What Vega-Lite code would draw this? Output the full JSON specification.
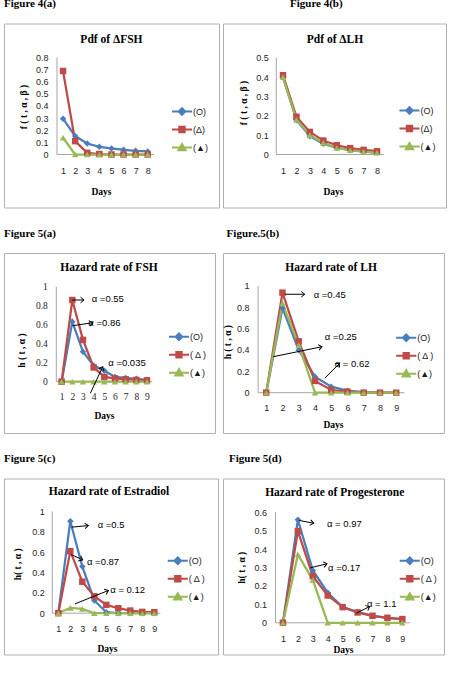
{
  "$schema": "https://vega.github.io/schema/vega-lite/v6.json",
  "padding": {"left": 3, "top": -2.5, "right": 0, "bottom": 0},
  "background": "white",
  "config": {
    "view": {"stroke": "#b0b0b0", "strokeWidth": 1},
    "axis": {"domain": false, "ticks": false, "tickSize": 0, "grid": false, "labelFont": "Liberation Sans", "labelFontSize": 9, "labelColor": "#262626", "labelOverlap": false, "labelFlush": false, "labelBound": false, "titleFont": "Liberation Serif", "titleFontSize": 9.5, "titleFontWeight": "bold", "titleColor": "#000000", "titleBaseline": "middle", "titleAlign": "center", "format": "~g"},
    "legend": {"symbolSize": 144, "labelFont": "Liberation Sans", "labelFontSize": 9, "labelColor": "#1a1a1a", "rowPadding": 3, "labelOffset": 4, "padding": 0},
    "title": {"anchor": "start", "offset": 14.5, "baseline": "middle", "font": "Liberation Serif", "fontSize": 11, "fontWeight": "bold", "color": "#000000"},
    "text": {"font": "Liberation Sans", "fontSize": 9.5, "align": "left", "baseline": "middle", "color": "#000000"}
  },
  "datasets": {
    "s4a": [
      {"day": 1, "series": "(O)", "value": 0.295}, {"day": 2, "series": "(O)", "value": 0.152}, {"day": 3, "series": "(O)", "value": 0.091}, {"day": 4, "series": "(O)", "value": 0.063}, {"day": 5, "series": "(O)", "value": 0.05}, {"day": 6, "series": "(O)", "value": 0.039}, {"day": 7, "series": "(O)", "value": 0.03}, {"day": 8, "series": "(O)", "value": 0.025},
      {"day": 1, "series": "(Δ)", "value": 0.689}, {"day": 2, "series": "(Δ)", "value": 0.11}, {"day": 3, "series": "(Δ)", "value": 0.014}, {"day": 4, "series": "(Δ)", "value": 0.004}, {"day": 5, "series": "(Δ)", "value": 0}, {"day": 6, "series": "(Δ)", "value": 0}, {"day": 7, "series": "(Δ)", "value": 0}, {"day": 8, "series": "(Δ)", "value": 0},
      {"day": 1, "series": "(▲)", "value": 0.138}, {"day": 2, "series": "(▲)", "value": 0}, {"day": 3, "series": "(▲)", "value": 0}, {"day": 4, "series": "(▲)", "value": 0}, {"day": 5, "series": "(▲)", "value": 0}, {"day": 6, "series": "(▲)", "value": 0}, {"day": 7, "series": "(▲)", "value": 0}, {"day": 8, "series": "(▲)", "value": 0}
    ],
    "s4b": [
      {"day": 1, "series": "(O)", "value": 0.4}, {"day": 2, "series": "(O)", "value": 0.178}, {"day": 3, "series": "(O)", "value": 0.095}, {"day": 4, "series": "(O)", "value": 0.055}, {"day": 5, "series": "(O)", "value": 0.035}, {"day": 6, "series": "(O)", "value": 0.022}, {"day": 7, "series": "(O)", "value": 0.015}, {"day": 8, "series": "(O)", "value": 0.01},
      {"day": 1, "series": "(Δ)", "value": 0.41}, {"day": 2, "series": "(Δ)", "value": 0.195}, {"day": 3, "series": "(Δ)", "value": 0.117}, {"day": 4, "series": "(Δ)", "value": 0.072}, {"day": 5, "series": "(Δ)", "value": 0.048}, {"day": 6, "series": "(Δ)", "value": 0.033}, {"day": 7, "series": "(Δ)", "value": 0.024}, {"day": 8, "series": "(Δ)", "value": 0.017},
      {"day": 1, "series": "(▲)", "value": 0.4}, {"day": 2, "series": "(▲)", "value": 0.18}, {"day": 3, "series": "(▲)", "value": 0.1}, {"day": 4, "series": "(▲)", "value": 0.06}, {"day": 5, "series": "(▲)", "value": 0.034}, {"day": 6, "series": "(▲)", "value": 0.022}, {"day": 7, "series": "(▲)", "value": 0.015}, {"day": 8, "series": "(▲)", "value": 0.009}
    ],
    "s5a": [
      {"day": 1, "series": "(O)", "value": 0}, {"day": 2, "series": "(O)", "value": 0.63}, {"day": 3, "series": "(O)", "value": 0.315}, {"day": 4, "series": "(O)", "value": 0.17}, {"day": 5, "series": "(O)", "value": 0.115}, {"day": 6, "series": "(O)", "value": 0.05}, {"day": 7, "series": "(O)", "value": 0.04}, {"day": 8, "series": "(O)", "value": 0.03}, {"day": 9, "series": "(O)", "value": 0.02},
      {"day": 1, "series": "(Δ)", "value": 0}, {"day": 2, "series": "(Δ)", "value": 0.86}, {"day": 3, "series": "(Δ)", "value": 0.44}, {"day": 4, "series": "(Δ)", "value": 0.15}, {"day": 5, "series": "(Δ)", "value": 0.05}, {"day": 6, "series": "(Δ)", "value": 0.035}, {"day": 7, "series": "(Δ)", "value": 0.025}, {"day": 8, "series": "(Δ)", "value": 0.018}, {"day": 9, "series": "(Δ)", "value": 0.014},
      {"day": 1, "series": "(▲)", "value": 0}, {"day": 2, "series": "(▲)", "value": 0}, {"day": 3, "series": "(▲)", "value": 0}, {"day": 4, "series": "(▲)", "value": 0}, {"day": 5, "series": "(▲)", "value": 0}, {"day": 6, "series": "(▲)", "value": 0}, {"day": 7, "series": "(▲)", "value": 0}, {"day": 8, "series": "(▲)", "value": 0}, {"day": 9, "series": "(▲)", "value": 0}
    ],
    "s5b": [
      {"day": 1, "series": "(O)", "value": 0}, {"day": 2, "series": "(O)", "value": 0.79}, {"day": 3, "series": "(O)", "value": 0.4}, {"day": 4, "series": "(O)", "value": 0.15}, {"day": 5, "series": "(O)", "value": 0.056}, {"day": 6, "series": "(O)", "value": 0.019}, {"day": 7, "series": "(O)", "value": 0.005}, {"day": 8, "series": "(O)", "value": 0}, {"day": 9, "series": "(O)", "value": 0},
      {"day": 1, "series": "(Δ)", "value": 0}, {"day": 2, "series": "(Δ)", "value": 0.935}, {"day": 3, "series": "(Δ)", "value": 0.48}, {"day": 4, "series": "(Δ)", "value": 0.11}, {"day": 5, "series": "(Δ)", "value": 0.025}, {"day": 6, "series": "(Δ)", "value": 0.01}, {"day": 7, "series": "(Δ)", "value": 0}, {"day": 8, "series": "(Δ)", "value": 0}, {"day": 9, "series": "(Δ)", "value": 0},
      {"day": 1, "series": "(▲)", "value": 0}, {"day": 2, "series": "(▲)", "value": 0.835}, {"day": 3, "series": "(▲)", "value": 0.445}, {"day": 4, "series": "(▲)", "value": 0}, {"day": 5, "series": "(▲)", "value": 0}, {"day": 6, "series": "(▲)", "value": 0}, {"day": 7, "series": "(▲)", "value": 0}, {"day": 8, "series": "(▲)", "value": 0}, {"day": 9, "series": "(▲)", "value": 0}
    ],
    "s5c": [
      {"day": 1, "series": "(O)", "value": 0}, {"day": 2, "series": "(O)", "value": 0.905}, {"day": 3, "series": "(O)", "value": 0.46}, {"day": 4, "series": "(O)", "value": 0.125}, {"day": 5, "series": "(O)", "value": 0.01}, {"day": 6, "series": "(O)", "value": 0}, {"day": 7, "series": "(O)", "value": 0}, {"day": 8, "series": "(O)", "value": 0}, {"day": 9, "series": "(O)", "value": 0},
      {"day": 1, "series": "(Δ)", "value": 0}, {"day": 2, "series": "(Δ)", "value": 0.61}, {"day": 3, "series": "(Δ)", "value": 0.31}, {"day": 4, "series": "(Δ)", "value": 0.167}, {"day": 5, "series": "(Δ)", "value": 0.082}, {"day": 6, "series": "(Δ)", "value": 0.049}, {"day": 7, "series": "(Δ)", "value": 0.026}, {"day": 8, "series": "(Δ)", "value": 0.013}, {"day": 9, "series": "(Δ)", "value": 0.01},
      {"day": 1, "series": "(▲)", "value": 0}, {"day": 2, "series": "(▲)", "value": 0.052}, {"day": 3, "series": "(▲)", "value": 0.043}, {"day": 4, "series": "(▲)", "value": 0}, {"day": 5, "series": "(▲)", "value": 0}, {"day": 6, "series": "(▲)", "value": 0}, {"day": 7, "series": "(▲)", "value": 0}, {"day": 8, "series": "(▲)", "value": 0}, {"day": 9, "series": "(▲)", "value": 0}
    ],
    "s5d": [
      {"day": 1, "series": "(O)", "value": 0}, {"day": 2, "series": "(O)", "value": 0.559}, {"day": 3, "series": "(O)", "value": 0.284}, {"day": 4, "series": "(O)", "value": 0.163}, {"day": 5, "series": "(O)", "value": 0.085}, {"day": 6, "series": "(O)", "value": 0.058}, {"day": 7, "series": "(O)", "value": 0.038}, {"day": 8, "series": "(O)", "value": 0.027}, {"day": 9, "series": "(O)", "value": 0.02},
      {"day": 1, "series": "(Δ)", "value": 0}, {"day": 2, "series": "(Δ)", "value": 0.497}, {"day": 3, "series": "(Δ)", "value": 0.253}, {"day": 4, "series": "(Δ)", "value": 0.148}, {"day": 5, "series": "(Δ)", "value": 0.085}, {"day": 6, "series": "(Δ)", "value": 0.056}, {"day": 7, "series": "(Δ)", "value": 0.038}, {"day": 8, "series": "(Δ)", "value": 0.027}, {"day": 9, "series": "(Δ)", "value": 0.02},
      {"day": 1, "series": "(▲)", "value": 0}, {"day": 2, "series": "(▲)", "value": 0.37}, {"day": 3, "series": "(▲)", "value": 0.233}, {"day": 4, "series": "(▲)", "value": 0}, {"day": 5, "series": "(▲)", "value": 0}, {"day": 6, "series": "(▲)", "value": 0}, {"day": 7, "series": "(▲)", "value": 0}, {"day": 8, "series": "(▲)", "value": 0}, {"day": 9, "series": "(▲)", "value": 0}
    ],
    "ax4a": [{"day": 0.5, "day2": 8.5, "value": 0, "value2": 0}, {"day": 0.5, "day2": 0.5, "value": 0, "value2": 0.8}],
    "ax4b": [{"day": 0.5, "day2": 8.5, "value": 0, "value2": 0}, {"day": 0.5, "day2": 0.5, "value": 0, "value2": 0.5}],
    "ax5a": [{"day": 0.5, "day2": 9.5, "value": 0, "value2": 0}, {"day": 0.5, "day2": 0.5, "value": 0, "value2": 1}],
    "ax5d": [{"day": 0.5, "day2": 9.5, "value": 0, "value2": 0}, {"day": 0.5, "day2": 0.5, "value": 0, "value2": 0.6}],
    "ar5a": [
      {"day": 2.0, "value": 0.86, "day2": 3.1, "value2": 0.86},
      {"day": 2.04, "value": 0.59, "day2": 3.91, "value2": 0.62},
      {"day": 3.69, "value": -0.122, "day2": 4.85, "value2": 0.158}
    ],
    "hd5a": [
      {"day": 3.1, "value": 0.86, "angle": 0},
      {"day": 3.91, "value": 0.62, "angle": -10},
      {"day": 4.85, "value": 0.158, "angle": -65}
    ],
    "tx5a": [
      {"day": 3.82, "value": 0.87, "label": "α =0.55"},
      {"day": 3.5, "value": 0.62, "label": "α =0.86"},
      {"day": 5.37, "value": 0.194, "label": "α =0.035"}
    ],
    "ar5b": [
      {"day": 2.14, "value": 0.92, "day2": 3.37, "value2": 0.92},
      {"day": 1.42, "value": 0.336, "day2": 4.43, "value2": 0.43},
      {"day": 4.6, "value": 0.135, "day2": 5.52, "value2": 0.275}
    ],
    "hd5b": [
      {"day": 3.37, "value": 0.92, "angle": 0},
      {"day": 4.43, "value": 0.43, "angle": -11.5},
      {"day": 5.52, "value": 0.275, "angle": -45}
    ],
    "tx5b": [
      {"day": 3.92, "value": 0.91, "label": "α =0.45"},
      {"day": 4.6, "value": 0.518, "label": "α =0.25"},
      {"day": 5.21, "value": 0.265, "label": "α = 0.62"}
    ],
    "ar5c": [
      {"day": 2.12, "value": 0.846, "day2": 3.5, "value2": 0.862},
      {"day": 2.06, "value": 0.577, "day2": 3.03, "value2": 0.525},
      {"day": 2.39, "value": 0.092, "day2": 5.17, "value2": 0.223}
    ],
    "hd5c": [
      {"day": 3.5, "value": 0.862, "angle": -6},
      {"day": 3.03, "value": 0.525, "angle": 24},
      {"day": 5.17, "value": 0.223, "angle": -22}
    ],
    "tx5c": [
      {"day": 4.28, "value": 0.872, "label": "α =0.5"},
      {"day": 3.39, "value": 0.5, "label": "α =0.87"},
      {"day": 5.33, "value": 0.23, "label": "α = 0.12"}
    ],
    "ar5d": [
      {"day": 2.08, "value": 0.555, "day2": 3.06, "value2": 0.54},
      {"day": 2.83, "value": 0.298, "day2": 3.95, "value2": 0.32},
      {"day": 5.92, "value": 0.052, "day2": 6.81, "value2": 0.088}
    ],
    "hd5d": [
      {"day": 3.06, "value": 0.54, "angle": 10},
      {"day": 3.95, "value": 0.32, "angle": -13.5},
      {"day": 6.81, "value": 0.088, "angle": -26.6}
    ],
    "tx5d": [
      {"day": 3.95, "value": 0.537, "label": "α = 0.97"},
      {"day": 4.02, "value": 0.298, "label": "α =0.17"},
      {"day": 6.63, "value": 0.103, "label": "α = 1.1"}
    ],
    "ti4a": [{"day": 5.0, "value": 0.948, "label": "Pdf of ΔFSH"}],
    "ti4b": [{"day": 4.87, "value": 0.5946, "label": "Pdf of ΔLH"}],
    "ti5a": [{"day": 5.44, "value": 1.197, "label": "Hazard rate of FSH"}],
    "ti5b": [{"day": 4.99, "value": 1.165, "label": "Hazard rate of LH"}],
    "ti5c": [{"day": 5.225, "value": 1.187, "label": "Hazard rate of Estradiol"}],
    "ti5d": [{"day": 4.47, "value": 0.705, "label": "Hazard rate of Progesterone"}]
  },
  "resolve": {"scale": {"stroke": "independent", "fill": "independent", "shape": "independent"}, "legend": {"stroke": "independent", "fill": "independent", "shape": "independent"}},
  "spacing": 18.5,
  "vconcat": [
    {
      "spacing": 2,
      "resolve": {"scale": {"stroke": "independent", "fill": "independent", "shape": "independent"}, "legend": {"stroke": "independent", "fill": "independent", "shape": "independent"}},
      "hconcat": [
        {
          "width": 215, "height": 184,
          "title": {"text": "Figure 4(a)", "dx": 0},
          "encoding": {
            "x": {"field": "day", "type": "quantitative", "scale": {"domain": [-3.88, 13.889], "nice": false, "zero": false}, "axis": {"values": [1, 2, 3, 4, 5, 6, 7, 8], "format": "d", "offset": -53, "labelPadding": 12, "title": "Days", "titleX": 97, "titleY": 37}},
            "y": {"field": "value", "type": "quantitative", "scale": {"domain": [-0.4371, 1.0804], "nice": false, "zero": false}, "axis": {"values": [0, 0.1, 0.2, 0.3, 0.4, 0.5, 0.6, 0.7, 0.8], "offset": -53, "labelPadding": 9, "title": "f ( t , α , β )", "titleX": -34, "titleY": 83}}
          },
          "layer": [
            {"data": {"name": "ax4a"}, "mark": {"type": "rule", "color": "#a6a6a6", "strokeWidth": 1}, "encoding": {"x2": {"field": "day2"}, "y2": {"field": "value2"}}},
            {"data": {"name": "s4a"}, "mark": {"type": "line", "strokeWidth": 2.25}, "encoding": {"stroke": {"field": "series", "type": "nominal", "scale": {"domain": ["(O)", "(Δ)", "(▲)"], "range": ["#4a7ebb", "#be4b48", "#98b954"]}, "legend": {"title": null, "orient": "none", "legendX": 171, "legendY": 81, "encode": {"symbols": {"update": {"shape": {"signal": "datum.value==='(O)'?'M-1.67,0L1.67,0M0,-0.55L0.55,0L0,0.55L-0.55,0Z':datum.value==='(Δ)'?'M-1.67,0L1.67,0M-0.45,-0.45L0.45,-0.45L0.45,0.45L-0.45,0.45Z':'M-1.67,0L1.67,0M0,-0.6L0.6,0.45L-0.6,0.45Z'"}, "fill": {"signal": "datum.value==='(O)'?'#4a7ebb':datum.value==='(Δ)'?'#be4b48':'#98b954'"}, "strokeWidth": {"value": 2}, "opacity": {"value": 1}}}}}}}},
            {"data": {"name": "s4a"}, "mark": {"type": "point", "filled": true, "size": 42, "opacity": 1}, "encoding": {"fill": {"field": "series", "type": "nominal", "scale": {"range": ["#4a7ebb", "#be4b48", "#98b954"]}, "legend": null}, "shape": {"field": "series", "type": "nominal", "scale": {"range": ["diamond", "square", "triangle-up"]}, "legend": null}}},
            {"data": {"name": "ti4a"}, "mark": {"type": "text", "align": "center", "font": "Liberation Serif", "fontSize": 11.5, "fontWeight": "bold"}, "encoding": {"text": {"field": "label"}}}
          ]
        },
        {
          "width": 223, "height": 184,
          "title": {"text": "Figure 4(b)", "dx": 67},
          "encoding": {
            "x": {"field": "day", "type": "quantitative", "scale": {"domain": [-3.469, 13.136], "nice": false, "zero": false}, "axis": {"values": [1, 2, 3, 4, 5, 6, 7, 8], "format": "d", "offset": -53, "labelPadding": 12, "title": "Days", "titleX": 110, "titleY": 37}},
            "y": {"field": "value", "type": "quantitative", "scale": {"domain": [-0.274, 0.6774], "nice": false, "zero": false}, "axis": {"values": [0, 0.1, 0.2, 0.3, 0.4, 0.5], "offset": -53.3, "labelPadding": 8, "title": "f ( t , α , β )", "titleX": -32.6, "titleY": 79}}
          },
          "layer": [
            {"data": {"name": "ax4b"}, "mark": {"type": "rule", "color": "#a6a6a6", "strokeWidth": 1}, "encoding": {"x2": {"field": "day2"}, "y2": {"field": "value2"}}},
            {"data": {"name": "s4b"}, "mark": {"type": "line", "strokeWidth": 2.25}, "encoding": {"stroke": {"field": "series", "type": "nominal", "scale": {"domain": ["(O)", "(Δ)", "(▲)"], "range": ["#4a7ebb", "#be4b48", "#98b954"]}, "legend": {"title": null, "orient": "none", "legendX": 179.5, "legendY": 80, "encode": {"symbols": {"update": {"shape": {"signal": "datum.value==='(O)'?'M-1.67,0L1.67,0M0,-0.55L0.55,0L0,0.55L-0.55,0Z':datum.value==='(Δ)'?'M-1.67,0L1.67,0M-0.45,-0.45L0.45,-0.45L0.45,0.45L-0.45,0.45Z':'M-1.67,0L1.67,0M0,-0.6L0.6,0.45L-0.6,0.45Z'"}, "fill": {"signal": "datum.value==='(O)'?'#4a7ebb':datum.value==='(Δ)'?'#be4b48':'#98b954'"}, "strokeWidth": {"value": 2}, "opacity": {"value": 1}}}}}}}},
            {"data": {"name": "s4b"}, "mark": {"type": "point", "filled": true, "size": 42, "opacity": 1}, "encoding": {"fill": {"field": "series", "type": "nominal", "scale": {"range": ["#4a7ebb", "#be4b48", "#98b954"]}, "legend": null}, "shape": {"field": "series", "type": "nominal", "scale": {"range": ["diamond", "square", "triangle-up"]}, "legend": null}}},
            {"data": {"name": "ti4b"}, "mark": {"type": "text", "align": "center", "font": "Liberation Serif", "fontSize": 11.5, "fontWeight": "bold"}, "encoding": {"text": {"field": "label"}}}
          ]
        }
      ]
    },
    {
      "spacing": 6,
      "resolve": {"scale": {"stroke": "independent", "fill": "independent", "shape": "independent"}, "legend": {"stroke": "independent", "fill": "independent", "shape": "independent"}},
      "hconcat": [
        {
          "width": 211, "height": 180,
          "title": {"text": "Figure 5(a)", "dx": 0},
          "encoding": {
            "x": {"field": "day", "type": "quantitative", "scale": {"domain": [-4.402, 15.373], "nice": false, "zero": false}, "axis": {"values": [1, 2, 3, 4, 5, 6, 7, 8, 9], "format": "d", "offset": -51.3, "labelPadding": 10, "labelFont": "Liberation Serif", "labelFontSize": 9.5, "title": "Days", "titleX": 100, "titleY": 33.3}},
            "y": {"field": "value", "type": "quantitative", "scale": {"domain": [-0.54, 1.3547], "nice": false, "zero": false}, "axis": {"values": [0, 0.2, 0.4, 0.6, 0.8, 1], "offset": -52.3, "labelPadding": 9, "labelFont": "Liberation Serif", "labelFontSize": 9.5, "title": "h ( t , α )", "titleX": -35.3, "titleY": 97}}
          },
          "layer": [
            {"data": {"name": "ax5a"}, "mark": {"type": "rule", "color": "#a6a6a6", "strokeWidth": 1}, "encoding": {"x2": {"field": "day2"}, "y2": {"field": "value2"}}},
            {"data": {"name": "s5a"}, "mark": {"type": "line", "strokeWidth": 2.25}, "encoding": {"stroke": {"field": "series", "type": "nominal", "scale": {"domain": ["(O)", "(Δ)", "(▲)"], "range": ["#4a7ebb", "#be4b48", "#98b954"]}, "legend": {"title": null, "orient": "none", "legendX": 168, "legendY": 76.7, "labelExpr": "datum.label==='(Δ)'?'( Δ )':datum.label", "encode": {"symbols": {"update": {"shape": {"signal": "datum.value==='(O)'?'M-1.67,0L1.67,0M0,-0.55L0.55,0L0,0.55L-0.55,0Z':datum.value==='(Δ)'?'M-1.67,0L1.67,0M-0.45,-0.45L0.45,-0.45L0.45,0.45L-0.45,0.45Z':'M-1.67,0L1.67,0M0,-0.6L0.6,0.45L-0.6,0.45Z'"}, "fill": {"signal": "datum.value==='(O)'?'#4a7ebb':datum.value==='(Δ)'?'#be4b48':'#98b954'"}, "strokeWidth": {"value": 2}, "opacity": {"value": 1}}}}}}}},
            {"data": {"name": "s5a"}, "mark": {"type": "point", "filled": true, "size": 42, "opacity": 1}, "encoding": {"fill": {"field": "series", "type": "nominal", "scale": {"range": ["#4a7ebb", "#be4b48", "#98b954"]}, "legend": null}, "shape": {"field": "series", "type": "nominal", "scale": {"range": ["diamond", "square", "triangle-up"]}, "legend": null}}},
            {"data": {"name": "ar5a"}, "mark": {"type": "rule", "color": "#000000", "strokeWidth": 1}, "encoding": {"x2": {"field": "day2"}, "y2": {"field": "value2"}}},
            {"data": {"name": "hd5a"}, "mark": {"type": "point", "shape": "M-1,-0.8L0,0L-1,0.8", "filled": false, "stroke": "#000000", "strokeWidth": 1, "size": 49, "opacity": 1}, "encoding": {"angle": {"field": "angle", "type": "quantitative", "scale": null}}},
            {"data": {"name": "tx5a"}, "mark": {"type": "text"}, "encoding": {"text": {"field": "label"}}},
            {"data": {"name": "ti5a"}, "mark": {"type": "text", "align": "center", "font": "Liberation Serif", "fontSize": 11.5, "fontWeight": "bold"}, "encoding": {"text": {"field": "label"}}}
          ]
        },
        {
          "width": 221, "height": 180,
          "title": {"text": "Figure.5(b)", "dx": 4},
          "encoding": {
            "x": {"field": "day", "type": "quantitative", "scale": {"domain": [-1.66, 11.94], "nice": false, "zero": false}, "axis": {"values": [1, 2, 3, 4, 5, 6, 7, 8, 9], "format": "d", "offset": -40.3, "labelPadding": 11, "title": "Days", "titleX": 110, "titleY": 32}},
            "y": {"field": "value", "type": "quantitative", "scale": {"domain": [-0.3766, 1.3056], "nice": false, "zero": false}, "axis": {"values": [0, 0.2, 0.4, 0.6, 0.8, 1], "offset": -35.1, "labelPadding": 9, "title": "h ( t , α )", "titleX": -30.5, "titleY": 88.7}}
          },
          "layer": [
            {"data": {"name": "ax5a"}, "mark": {"type": "rule", "color": "#a6a6a6", "strokeWidth": 1}, "encoding": {"x2": {"field": "day2"}, "y2": {"field": "value2"}}},
            {"data": {"name": "s5b"}, "mark": {"type": "line", "strokeWidth": 2.25}, "encoding": {"stroke": {"field": "series", "type": "nominal", "scale": {"domain": ["(O)", "(Δ)", "(▲)"], "range": ["#4a7ebb", "#be4b48", "#98b954"]}, "legend": {"title": null, "orient": "none", "legendX": 176.2, "legendY": 77.7, "labelExpr": "datum.label==='(Δ)'?'( Δ )':datum.label", "encode": {"symbols": {"update": {"shape": {"signal": "datum.value==='(O)'?'M-1.67,0L1.67,0M0,-0.55L0.55,0L0,0.55L-0.55,0Z':datum.value==='(Δ)'?'M-1.67,0L1.67,0M-0.45,-0.45L0.45,-0.45L0.45,0.45L-0.45,0.45Z':'M-1.67,0L1.67,0M0,-0.6L0.6,0.45L-0.6,0.45Z'"}, "fill": {"signal": "datum.value==='(O)'?'#4a7ebb':datum.value==='(Δ)'?'#be4b48':'#98b954'"}, "strokeWidth": {"value": 2}, "opacity": {"value": 1}}}}}}}},
            {"data": {"name": "s5b"}, "mark": {"type": "point", "filled": true, "size": 42, "opacity": 1}, "encoding": {"fill": {"field": "series", "type": "nominal", "scale": {"range": ["#4a7ebb", "#be4b48", "#98b954"]}, "legend": null}, "shape": {"field": "series", "type": "nominal", "scale": {"range": ["diamond", "square", "triangle-up"]}, "legend": null}}},
            {"data": {"name": "ar5b"}, "mark": {"type": "rule", "color": "#000000", "strokeWidth": 1}, "encoding": {"x2": {"field": "day2"}, "y2": {"field": "value2"}}},
            {"data": {"name": "hd5b"}, "mark": {"type": "point", "shape": "M-1,-0.8L0,0L-1,0.8", "filled": false, "stroke": "#000000", "strokeWidth": 1, "size": 49, "opacity": 1}, "encoding": {"angle": {"field": "angle", "type": "quantitative", "scale": null}}},
            {"data": {"name": "tx5b"}, "mark": {"type": "text"}, "encoding": {"text": {"field": "label"}}},
            {"data": {"name": "ti5b"}, "mark": {"type": "text", "align": "center", "font": "Liberation Serif", "fontSize": 11.5, "fontWeight": "bold"}, "encoding": {"text": {"field": "label"}}}
          ]
        }
      ]
    },
    {
      "spacing": 3,
      "resolve": {"scale": {"stroke": "independent", "fill": "independent", "shape": "independent"}, "legend": {"stroke": "independent", "fill": "independent", "shape": "independent"}},
      "hconcat": [
        {
          "width": 214, "height": 176,
          "title": {"text": "Figure 5(c)", "dx": 0},
          "encoding": {
            "x": {"field": "day", "type": "quantitative", "scale": {"domain": [-3.525, 14.308], "nice": false, "zero": false}, "axis": {"values": [1, 2, 3, 4, 5, 6, 7, 8, 9], "format": "d", "offset": -41.3, "labelPadding": 11.5, "title": "Days", "titleX": 103, "titleY": 35.6}},
            "y": {"field": "value", "type": "quantitative", "scale": {"domain": [-0.406, 1.3245], "nice": false, "zero": false}, "axis": {"values": [0, 0.2, 0.4, 0.6, 0.8, 1], "offset": -48.3, "labelPadding": 8, "title": "h( t , α )", "titleX": -35.3, "titleY": 85.3}}
          },
          "layer": [
            {"data": {"name": "ax5a"}, "mark": {"type": "rule", "color": "#a6a6a6", "strokeWidth": 1}, "encoding": {"x2": {"field": "day2"}, "y2": {"field": "value2"}}},
            {"data": {"name": "s5c"}, "mark": {"type": "line", "strokeWidth": 2.25}, "encoding": {"stroke": {"field": "series", "type": "nominal", "scale": {"domain": ["(O)", "(Δ)", "(▲)"], "range": ["#4a7ebb", "#be4b48", "#98b954"]}, "legend": {"title": null, "orient": "none", "legendX": 166.8, "legendY": 75.3, "labelExpr": "datum.label==='(Δ)'?'( Δ )':datum.label", "encode": {"symbols": {"update": {"shape": {"signal": "datum.value==='(O)'?'M-1.67,0L1.67,0M0,-0.55L0.55,0L0,0.55L-0.55,0Z':datum.value==='(Δ)'?'M-1.67,0L1.67,0M-0.45,-0.45L0.45,-0.45L0.45,0.45L-0.45,0.45Z':'M-1.67,0L1.67,0M0,-0.6L0.6,0.45L-0.6,0.45Z'"}, "fill": {"signal": "datum.value==='(O)'?'#4a7ebb':datum.value==='(Δ)'?'#be4b48':'#98b954'"}, "strokeWidth": {"value": 2}, "opacity": {"value": 1}}}}}}}},
            {"data": {"name": "s5c"}, "mark": {"type": "point", "filled": true, "size": 42, "opacity": 1}, "encoding": {"fill": {"field": "series", "type": "nominal", "scale": {"range": ["#4a7ebb", "#be4b48", "#98b954"]}, "legend": null}, "shape": {"field": "series", "type": "nominal", "scale": {"range": ["diamond", "square", "triangle-up"]}, "legend": null}}},
            {"data": {"name": "ar5c"}, "mark": {"type": "rule", "color": "#000000", "strokeWidth": 1}, "encoding": {"x2": {"field": "day2"}, "y2": {"field": "value2"}}},
            {"data": {"name": "hd5c"}, "mark": {"type": "point", "shape": "M-1,-0.8L0,0L-1,0.8", "filled": false, "stroke": "#000000", "strokeWidth": 1, "size": 49, "opacity": 1}, "encoding": {"angle": {"field": "angle", "type": "quantitative", "scale": null}}},
            {"data": {"name": "tx5c"}, "mark": {"type": "text"}, "encoding": {"text": {"field": "label"}}},
            {"data": {"name": "ti5c"}, "mark": {"type": "text", "align": "center", "font": "Liberation Serif", "fontSize": 11.5, "fontWeight": "bold"}, "encoding": {"text": {"field": "label"}}}
          ]
        },
        {
          "width": 221, "height": 176,
          "title": {"text": "Figure 5(d)", "dx": 6},
          "encoding": {
            "x": {"field": "day", "type": "quantitative", "scale": {"domain": [-3.019, 11.793], "nice": false, "zero": false}, "axis": {"values": [1, 2, 3, 4, 5, 6, 7, 8, 9], "format": "d", "offset": -31.7, "labelPadding": 12, "title": "Days", "titleX": 120, "titleY": 27}},
            "y": {"field": "value", "type": "quantitative", "scale": {"domain": [-0.1719, 0.7825], "nice": false, "zero": false}, "axis": {"values": [0, 0.1, 0.2, 0.3, 0.4, 0.5, 0.6], "offset": -52.5, "labelPadding": 9, "title": "h( t , α )", "titleX": -34.2, "titleY": 88.7}}
          },
          "layer": [
            {"data": {"name": "ax5d"}, "mark": {"type": "rule", "color": "#a6a6a6", "strokeWidth": 1}, "encoding": {"x2": {"field": "day2"}, "y2": {"field": "value2"}}},
            {"data": {"name": "s5d"}, "mark": {"type": "line", "strokeWidth": 2.25}, "encoding": {"stroke": {"field": "series", "type": "nominal", "scale": {"domain": ["(O)", "(Δ)", "(▲)"], "range": ["#4a7ebb", "#be4b48", "#98b954"]}, "legend": {"title": null, "orient": "none", "legendX": 179.8, "legendY": 75.3, "labelExpr": "datum.label==='(Δ)'?'( Δ )':datum.label", "encode": {"symbols": {"update": {"shape": {"signal": "datum.value==='(O)'?'M-1.67,0L1.67,0M0,-0.55L0.55,0L0,0.55L-0.55,0Z':datum.value==='(Δ)'?'M-1.67,0L1.67,0M-0.45,-0.45L0.45,-0.45L0.45,0.45L-0.45,0.45Z':'M-1.67,0L1.67,0M0,-0.6L0.6,0.45L-0.6,0.45Z'"}, "fill": {"signal": "datum.value==='(O)'?'#4a7ebb':datum.value==='(Δ)'?'#be4b48':'#98b954'"}, "strokeWidth": {"value": 2}, "opacity": {"value": 1}}}}}}}},
            {"data": {"name": "s5d"}, "mark": {"type": "point", "filled": true, "size": 42, "opacity": 1}, "encoding": {"fill": {"field": "series", "type": "nominal", "scale": {"range": ["#4a7ebb", "#be4b48", "#98b954"]}, "legend": null}, "shape": {"field": "series", "type": "nominal", "scale": {"range": ["diamond", "square", "triangle-up"]}, "legend": null}}},
            {"data": {"name": "ar5d"}, "mark": {"type": "rule", "color": "#000000", "strokeWidth": 1}, "encoding": {"x2": {"field": "day2"}, "y2": {"field": "value2"}}},
            {"data": {"name": "hd5d"}, "mark": {"type": "point", "shape": "M-1,-0.8L0,0L-1,0.8", "filled": false, "stroke": "#000000", "strokeWidth": 1, "size": 49, "opacity": 1}, "encoding": {"angle": {"field": "angle", "type": "quantitative", "scale": null}}},
            {"data": {"name": "tx5d"}, "mark": {"type": "text"}, "encoding": {"text": {"field": "label"}}},
            {"data": {"name": "ti5d"}, "mark": {"type": "text", "align": "center", "font": "Liberation Serif", "fontSize": 11.5, "fontWeight": "bold"}, "encoding": {"text": {"field": "label"}}}
          ]
        }
      ]
    }
  ]
}
